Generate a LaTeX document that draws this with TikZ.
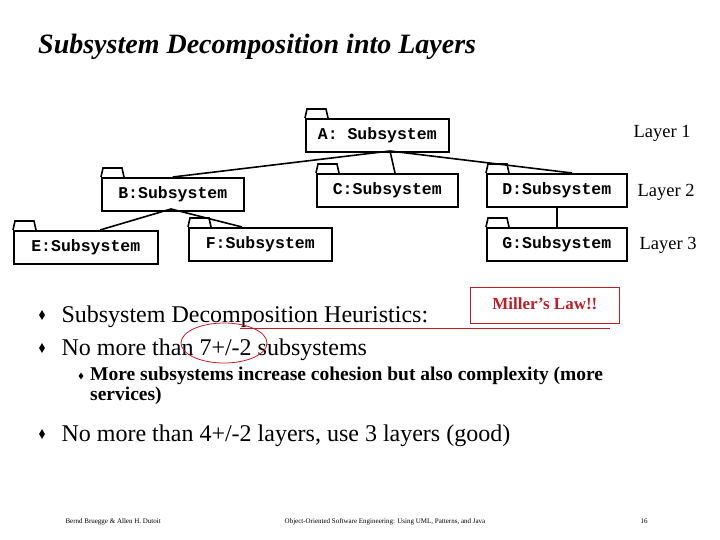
\documentclass[tikz,border=0pt]{standalone}
\usepackage{fontspec}
\usetikzlibrary{shapes.geometric}
\setmainfont{Liberation Serif}
\setmonofont{Liberation Mono}
\begin{document}
\begin{tikzpicture}[x=1pt,y=-1pt,
  pkg/.style={draw,line width=1.6pt,minimum height=33pt,font=\ttfamily\bfseries\fontsize{16.5}{18}\selectfont,inner sep=0pt,anchor=north west},
  lay/.style={font=\fontsize{18.5}{20}\selectfont,anchor=west},
  conn/.style={line width=1.6pt},
  big/.style={font=\fontsize{24}{27}\selectfont,anchor=base west},
  bul/.style={diamond,fill=black,inner sep=0pt,minimum width=6pt,minimum height=10pt},
  foot/.style={font=\fontsize{7}{8}\selectfont,anchor=base}]
\useasboundingbox (0,0) rectangle (720,540);
\node[font=\bfseries\itshape\fontsize{28}{30}\selectfont,anchor=base west,inner sep=0pt] (title) at (38,54) {Subsystem Decomposition into Layers};
\newcommand\pk[6]{%
 \node[pkg,minimum width=#4pt] (#1) at (#2,#3) {#6};
 \draw[line width=1.6pt] (#2,#3) -- ++(2,-9) -- ++(19,0) -- ++(2,9);}
\pk{A}{305}{118}{143}{}{A: Subsystem}
\pk{B}{101}{177}{142}{}{B:Subsystem}
\pk{C}{316}{173}{141}{}{C:Subsystem}
\pk{D}{486}{173}{140}{}{D:Subsystem}
\pk{E}{13}{230}{144}{}{E:Subsystem}
\pk{F}{188}{227}{143}{}{F:Subsystem}
\pk{G}{486}{227}{140}{}{G:Subsystem}
\coordinate (a) at (390,151);
\coordinate (b) at (171,209);
\draw[conn] (a) -- (B.north);
\draw[conn] (a) -- (395,173);
\draw[conn] (a) -- (572,173);
\draw[conn] (b) -- (100,230);
\draw[conn] (b) -- (242,227);
\draw[conn] (D.south) -- (G.north);
\node[lay] (l1) at (630,133) {Layer 1};
\node[lay] (l2) at (634,192) {Layer 2};
\node[lay] (l3) at (636,245) {Layer 3};
\node[bul] (d1) at (42,315) {};
\node[big] (t1) at (58,322) {Subsystem Decomposition Heuristics:};
\node[bul] (d2) at (42,348) {};
\node[big] (t2) at (58,355) {No more than 7+/-2 subsystems};
\node[bul,minimum width=5pt,minimum height=7pt] (d3) at (81,376) {};
\node[font=\bfseries\fontsize{19.5}{20}\selectfont,anchor=north west,align=left,inner sep=0pt] (t3) at (90,367) {More subsystems increase cohesion but also complexity (more\\services)};
\node[bul] (d4) at (42,434) {};
\node[big] (t4) at (58,441) {No more than 4+/-2 layers, use 3 layers (good)};
\definecolor{mred}{RGB}{190,30,40}
\node[draw=mred,thick,minimum width=149pt,minimum height=36pt,anchor=north west] (m) at (470,287) {};
\node[text=mred,font=\bfseries\fontsize{17}{18}\selectfont] (mt) at (m.center) [yshift=2pt] {Miller’s Law!!};
\coordinate (ls) at (240,328);
\coordinate (le) at (610,328);
\draw[mred,thick] (ls) -- (le);
\node[draw=mred,thick,ellipse,minimum width=86pt,minimum height=40pt,inner sep=0pt] (ov) at (224,343) {};
\node[foot,anchor=base west] (f1) at (62,523) {Bernd Bruegge \& Allen H. Dutoit};
\node[foot] (f2) at (385,523) {Object-Oriented Software Engineering: Using UML, Patterns, and Java};
\node[foot] (f3) at (644,523) {16};
\end{tikzpicture}
\end{document}
